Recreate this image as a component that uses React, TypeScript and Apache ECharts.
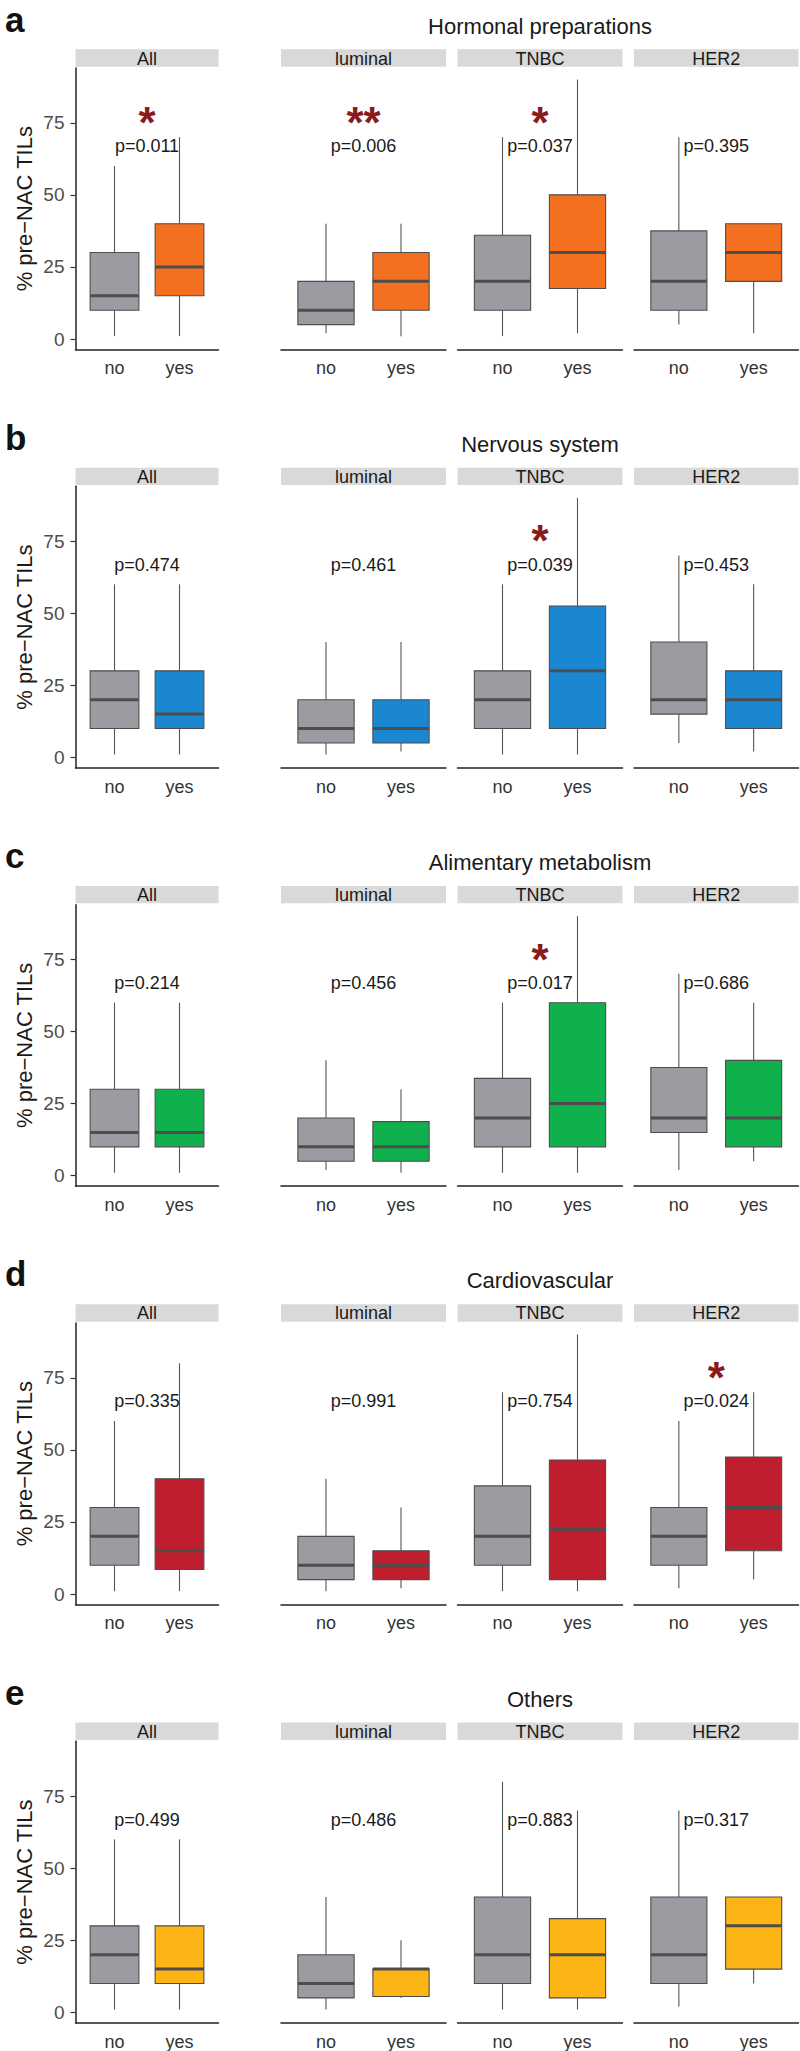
import React, { useEffect, useRef } from 'react';
import * as echarts from 'echarts';

// ---------- data ----------
const facets = ['All', 'luminal', 'TNBC', 'HER2'];
const groups = ['no', 'yes'];
const yTicks = [0, 25, 50, 75];
const panelLetters = ['a', 'b', 'c', 'd', 'e'];
const panelTitles = ['Hormonal preparations', 'Nervous system', 'Alimentary metabolism', 'Cardiovascular', 'Others'];
const panelColors = ['#F37021', '#1B87D0', '#10B14C', '#BF1E2E', '#FDB515'];
const yAxisTitle = '% pre\u2212NAC TILs';

// per facet: [no, yes], each [min, Q1, median, Q3, max]
const hormonalBoxes = [
  [[1, 10, 15, 30, 60], [1, 15, 25, 40, 70]],
  [[2, 5, 10, 20, 40], [1, 10, 20, 30, 40]],
  [[1, 10, 20, 36, 70], [2, 17.5, 30, 50, 90]],
  [[5, 10, 20, 37.5, 70], [2, 20, 30, 40, 40]],
];
const nervousBoxes = [
  [[1, 10, 20, 30, 60], [1, 10, 15, 30, 60]],
  [[1, 5, 10, 20, 40], [2, 5, 10, 20, 40]],
  [[1, 10, 20, 30, 60], [1, 10, 30, 52.5, 90]],
  [[5, 15, 20, 40, 70], [2, 10, 20, 30, 60]],
];
const alimentaryBoxes = [
  [[1, 10, 15, 30, 60], [1, 10, 15, 30, 60]],
  [[2, 5, 10, 20, 40], [1, 5, 10, 18.75, 30]],
  [[1, 10, 20, 33.75, 60], [1, 10, 25, 60, 90]],
  [[2, 15, 20, 37.5, 70], [5, 10, 20, 40, 60]],
];
const cardiovascularBoxes = [
  [[1, 10, 20, 30, 60], [1, 8.5, 15, 40, 80]],
  [[1, 5, 10, 20, 40], [2, 5, 10, 15, 30]],
  [[1, 10, 20, 37.5, 70], [1, 5, 22.5, 46.5, 90]],
  [[2, 10, 20, 30, 60], [5, 15, 30, 47.5, 70]],
];
const othersBoxes = [
  [[1, 10, 20, 30, 60], [1, 10, 15, 30, 60]],
  [[1, 5, 10, 20, 40], [5, 5.5, 15, 15, 25]],
  [[1, 10, 20, 40, 80], [1, 5, 20, 32.5, 70]],
  [[2, 10, 20, 40, 70], [10, 15, 30, 40, 40]],
];

const hormonalP = ['p=0.011', 'p=0.006', 'p=0.037', 'p=0.395'];
const nervousP = ['p=0.474', 'p=0.461', 'p=0.039', 'p=0.453'];
const alimentaryP = ['p=0.214', 'p=0.456', 'p=0.017', 'p=0.686'];
const cardiovascularP = ['p=0.335', 'p=0.991', 'p=0.754', 'p=0.024'];
const othersP = ['p=0.499', 'p=0.486', 'p=0.883', 'p=0.317'];

const hormonalStars = ['*', '**', '*', ''];
const nervousStars = ['', '', '*', ''];
const alimentaryStars = ['', '', '*', ''];
const cardiovascularStars = ['', '', '', '*'];
const othersStars = ['', '', '', ''];

const panelBoxes = [hormonalBoxes, nervousBoxes, alimentaryBoxes, cardiovascularBoxes, othersBoxes];
const panelP = [hormonalP, nervousP, alimentaryP, cardiovascularP, othersP];
const panelStars = [hormonalStars, nervousStars, alimentaryStars, cardiovascularStars, othersStars];

// ---------- layout / style ----------
const FONT = '"Liberation Sans", Arial, Helvetica, sans-serif';
const PITCH = 418.33;
const PLOT_TOP = 68;
const PLOT_H = 281.4;
const STRIP_TOP = 49.3;
const STRIP_H = 17.4;
const facetX = [[75.5, 218.5], [281, 446], [457.5, 622.5], [634, 798.5]];
const Y_MIN = -3.6;
const Y_MAX = 94;
const X_MIN = 0.4;
const X_MAX = 2.6;
const P_Y = 66.8;
const STAR_Y = 75.1;
const GRAY_FILL = '#9B9BA2';
const LINE_DARK = '#4D4D4D';
const AXIS_COLOR = '#222222';

export default function App() {
  const ref = useRef<HTMLDivElement>(null);

  useEffect(() => {
    if (!ref.current) return;
    const chart = echarts.init(ref.current, null, { renderer: 'svg' });

    const grid: any[] = [];
    const xAxis: any[] = [];
    const yAxis: any[] = [];
    const series: any[] = [];
    const graphic: any[] = [];

    panelBoxes.forEach((boxes, p) => {
      const dy = p * PITCH;
      const color = panelColors[p];

      graphic.push({
        type: 'text',
        x: 5,
        y: 19 + dy,
        style: {
          text: panelLetters[p],
          fontSize: 35,
          fontWeight: 'bold',
          fontFamily: FONT,
          fill: '#111111',
          align: 'left',
          verticalAlign: 'middle',
        },
      });
      graphic.push({
        type: 'text',
        x: 540,
        y: 26 + dy,
        style: {
          text: panelTitles[p],
          fontSize: 22,
          fontFamily: FONT,
          fill: '#1A1A1A',
          align: 'center',
          verticalAlign: 'middle',
        },
      });

      facets.forEach((facet, f) => {
        const gi = grid.length;
        const [x0, x1] = facetX[f];

        graphic.push({
          type: 'rect',
          shape: { x: x0, y: STRIP_TOP + dy, width: x1 - x0, height: STRIP_H },
          style: { fill: '#D9D9D9' },
        });
        graphic.push({
          type: 'text',
          x: (x0 + x1) / 2,
          y: STRIP_TOP + dy + STRIP_H / 2 + 0.5,
          style: {
            text: facet,
            fontSize: 18,
            fontFamily: FONT,
            fill: '#1A1A1A',
            align: 'center',
            verticalAlign: 'middle',
          },
        });

        grid.push({
          left: x0,
          top: PLOT_TOP + dy,
          width: x1 - x0,
          height: PLOT_H,
          containLabel: false,
          outerBoundsMode: 'none',
        });

        xAxis.push({
          gridIndex: gi,
          type: 'value',
          min: X_MIN,
          max: X_MAX,
          splitLine: { show: false },
          axisTick: { show: false },
          axisLine: { show: true, onZero: false, lineStyle: { color: AXIS_COLOR, width: 1.5 } },
          axisLabel: {
            customValues: [1, 2],
            formatter: (v: number) => groups[Math.round(v) - 1] ?? '',
            fontSize: 18,
            fontFamily: FONT,
            color: '#333333',
            margin: 10,
          },
        });

        const isFirst = f === 0;
        yAxis.push({
          gridIndex: gi,
          type: 'value',
          min: Y_MIN,
          max: Y_MAX,
          show: isFirst,
          splitLine: { show: false },
          axisLine: { show: true, onZero: false, lineStyle: { color: AXIS_COLOR, width: 1.5 } },
          axisTick: {
            show: true,
            customValues: yTicks,
            length: 5,
            lineStyle: { color: '#333333', width: 1.2 },
          },
          axisLabel: {
            customValues: yTicks,
            fontSize: 19,
            fontFamily: FONT,
            color: '#4D4D4D',
            margin: 11,
          },
          name: isFirst ? yAxisTitle : '',
          nameLocation: 'middle',
          nameGap: 40,
          nameTextStyle: { fontSize: 22, fontFamily: FONT, color: '#1A1A1A' },
        });

        series.push({
          type: 'custom',
          xAxisIndex: gi,
          yAxisIndex: gi,
          silent: true,
          data: boxes[f].map((b, i) => [i + 1, ...b]),
          renderItem: (params: any, api: any) => {
            const x = api.value(0);
            const pLo = api.coord([x, api.value(1)]);
            const pQ1 = api.coord([x, api.value(2)]);
            const pMed = api.coord([x, api.value(3)]);
            const pQ3 = api.coord([x, api.value(4)]);
            const pHi = api.coord([x, api.value(5)]);
            const half = api.size([0.75, 0])[0] / 2;
            const cx = pMed[0];
            const fill = params.dataIndex === 0 ? GRAY_FILL : color;
            return {
              type: 'group',
              children: [
                {
                  type: 'line',
                  shape: { x1: cx, y1: pHi[1], x2: cx, y2: pQ3[1] },
                  style: { stroke: '#555555', lineWidth: 1.1 },
                },
                {
                  type: 'line',
                  shape: { x1: cx, y1: pQ1[1], x2: cx, y2: pLo[1] },
                  style: { stroke: '#555555', lineWidth: 1.1 },
                },
                {
                  type: 'rect',
                  shape: { x: cx - half, y: pQ3[1], width: half * 2, height: pQ1[1] - pQ3[1] },
                  style: { fill, stroke: LINE_DARK, lineWidth: 1.1 },
                },
                {
                  type: 'line',
                  shape: { x1: cx - half, y1: pMed[1], x2: cx + half, y2: pMed[1] },
                  style: { stroke: LINE_DARK, lineWidth: 3 },
                },
              ],
            };
          },
        });

        const pText = panelP[p][f];
        const star = panelStars[p][f];
        const annData: number[][] = [[1.5, P_Y, 0]];
        if (star) annData.push([1.5, STAR_Y, 1]);
        series.push({
          type: 'custom',
          xAxisIndex: gi,
          yAxisIndex: gi,
          silent: true,
          z: 5,
          data: annData,
          renderItem: (params: any, api: any) => {
            const pt = api.coord([api.value(0), api.value(1)]);
            const isStar = api.value(2) === 1;
            return {
              type: 'text',
              x: pt[0],
              y: pt[1],
              style: isStar
                ? {
                    text: star,
                    fontSize: 44,
                    fontWeight: 'bold',
                    fontFamily: FONT,
                    fill: '#8B1A1A',
                    align: 'center',
                    verticalAlign: 'middle',
                  }
                : {
                    text: pText,
                    fontSize: 18,
                    fontFamily: FONT,
                    fill: '#1A1A1A',
                    align: 'center',
                    verticalAlign: 'middle',
                  },
            };
          },
        });
      });
    });

    chart.setOption({
      animation: false,
      backgroundColor: '#FFFFFF',
      grid,
      xAxis,
      yAxis,
      series,
      graphic,
    });

    return () => chart.dispose();
  }, []);

  return (
    <div
      ref={ref}
      style={{ position: 'absolute', left: 0, top: 0, width: 800, height: 2051 }}
    />
  );
}
